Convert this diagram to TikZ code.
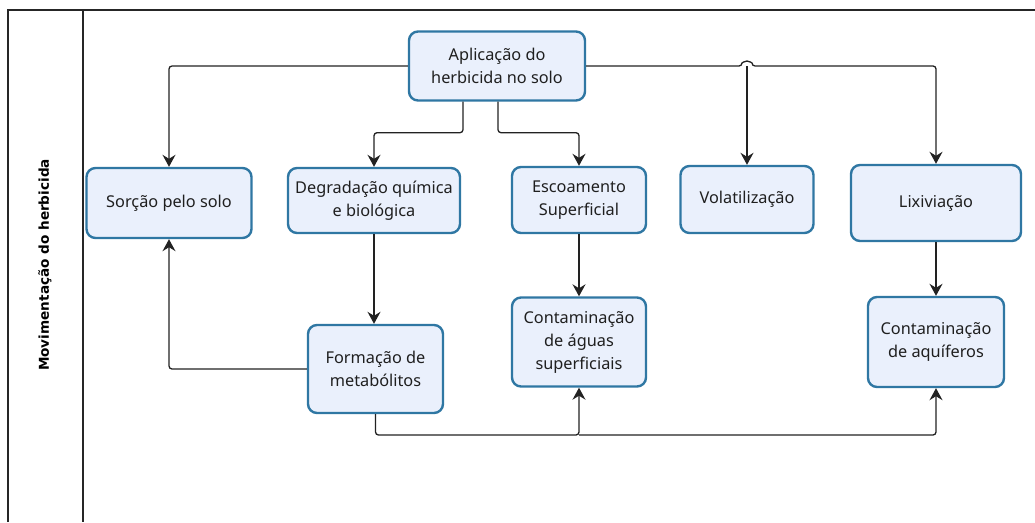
\documentclass[tikz,border=0pt]{standalone}
\usepackage{fontspec}
\setmainfont{Noto Sans}
\newfontfamily\labfont{DejaVu Sans}
\usetikzlibrary{arrows.meta,calc}
\definecolor{nodefill}{HTML}{EAF0FC}
\definecolor{nodeborder}{HTML}{2F77A3}
\definecolor{linecol}{HTML}{222222}
\begin{document}
\begin{tikzpicture}[x=1pt,y=-1pt,
  box/.style={draw=nodeborder, line width=2.4pt, fill=nodefill, rounded corners=9pt,
    align=center, inner sep=0pt, text=black!88,
    font=\fontsize{16.3}{23}\selectfont},
  conn/.style={draw=linecol, line width=1.3pt, rounded corners=3pt},
  arr/.style={conn, -{Stealth[length=12pt,width=13pt,inset=4pt]}},
  frame/.style={draw=black!85, line width=1.3pt}]
\useasboundingbox (0,0) rectangle (1035,522);
% frame
\draw[frame] (8,522) -- (8,10) -- (1035,10);
\draw[frame] (83,10) -- (83,522);
\node[rotate=90, font=\labfont\bfseries\fontsize{13.6}{16}\selectfont] (lab) at (45,265) {Movimentação do herbicida};
% nodes
\node[box, minimum width=176pt, minimum height=69pt] (ap) at (497,66) {Aplicação do\\herbicida no solo};
\node[box, minimum width=165pt, minimum height=70pt] (sor) at (169,203) {Sorção pelo solo};
\node[box, minimum width=172pt, minimum height=65pt] (deg) at (374,200.5) {Degradação química\\e biológica};
\node[box, minimum width=134pt, minimum height=66pt] (esc) at (579,200) {Escoamento\\Superficial};
\node[box, minimum width=133pt, minimum height=67pt] (vol) at (747,199.5) {Volatilização};
\node[box, minimum width=170pt, minimum height=76pt] (lix) at (936,203) {Lixiviação};
\node[box, minimum width=135pt, minimum height=88pt] (form) at (375.5,369) {Formação de\\metabólitos};
\node[box, minimum width=134pt, minimum height=89pt] (cag) at (579,342) {Contaminação\\de águas\\superficiais};
\node[box, minimum width=136pt, minimum height=90pt] (caq) at (936,342) {Contaminação\\de aquíferos};
% connectors
\coordinate (hop) at (747,66);
\coordinate (bj) at (579,435);
\draw[arr] (ap.west) -| (sor.north);
\draw[arr] ([xshift=-34pt]ap.south) -- ++(0,31) -| (deg.north);
\draw[arr] ([xshift=1pt]ap.south) -- ++(0,31) -| (esc.north);
\draw[arr] (ap.east) -- ([xshift=-5pt]hop) arc[start angle=180, end angle=0, radius=5pt] -| (lix.north);
\draw[arr] (hop) -- (vol.north);
\draw[arr] (deg.south) -- (deg.south |- form.north);
\draw[arr] (form.west) -| (sor.south);
\draw[arr] (esc.south) -- (cag.north);
\draw[arr] (lix.south) -- (caq.north);
\draw[arr] (form.south) |- (bj) -- (cag.south);
\draw[arr] (bj) -| (caq.south);
\end{tikzpicture}
\end{document}
